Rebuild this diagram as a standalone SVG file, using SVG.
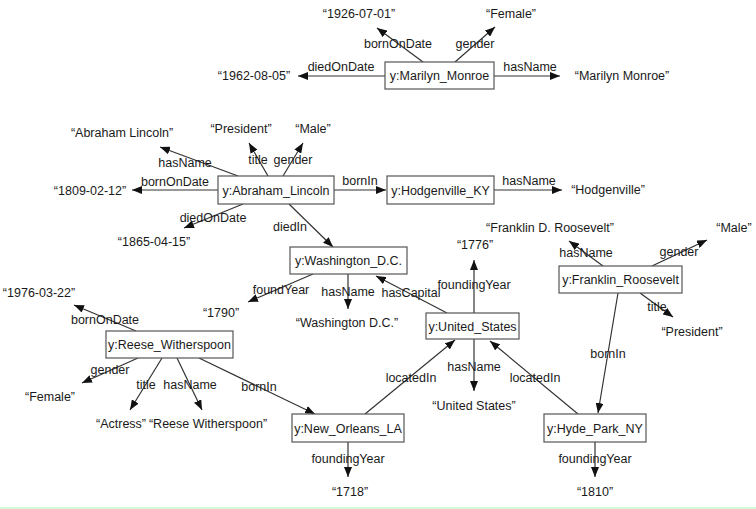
<svg xmlns="http://www.w3.org/2000/svg" width="756" height="509" viewBox="0 0 756 509">
<defs>
<marker id="ah" markerUnits="userSpaceOnUse" markerWidth="10" markerHeight="8" refX="10" refY="4" orient="auto">
<path d="M0,0 L10,4 L0,8 z" fill="#111"/>
</marker>
<style>
text{font-family:"Liberation Sans","DejaVu Sans",sans-serif;font-size:12.5px;fill:#1a1a1a;text-anchor:middle}
.box{fill:#fff;stroke:#555;stroke-width:1.2}
.e{stroke:#333;stroke-width:1.2;fill:none;marker-end:url(#ah)}
</style>
</defs>
<rect width="756" height="509" fill="#fff"/>
<rect x="0" y="507" width="756" height="2" fill="#d2fbd6"/>
<g id="connectors">
<line class="e" x1="423" y1="62" x2="377" y2="28"/>
<line class="e" x1="455" y1="62" x2="495" y2="27"/>
<line class="e" x1="385" y1="76" x2="298" y2="76"/>
<line class="e" x1="494" y1="76" x2="560" y2="76"/>
<line class="e" x1="334" y1="190" x2="386" y2="190"/>
<line class="e" x1="494" y1="190" x2="562" y2="190"/>
<line class="e" x1="268" y1="176" x2="249" y2="143"/>
<line class="e" x1="283" y1="176" x2="303" y2="143"/>
<line class="e" x1="238" y1="176" x2="160" y2="147"/>
<line class="e" x1="218" y1="190" x2="132" y2="190"/>
<line class="e" x1="243" y1="204" x2="184" y2="228"/>
<line class="e" x1="289" y1="204" x2="333" y2="247"/>
<line class="e" x1="348" y1="274" x2="348" y2="309"/>
<line class="e" x1="313" y1="274" x2="248" y2="302"/>
<line class="e" x1="447" y1="313" x2="376" y2="276"/>
<line class="e" x1="474" y1="313" x2="474" y2="260"/>
<line class="e" x1="474" y1="339" x2="474" y2="391"/>
<line class="e" x1="365" y1="414" x2="455" y2="340"/>
<line class="e" x1="578" y1="414" x2="490" y2="341"/>
<line class="e" x1="348" y1="442" x2="348" y2="477"/>
<line class="e" x1="595" y1="442" x2="595" y2="477"/>
<line class="e" x1="618" y1="293" x2="598" y2="413"/>
<line class="e" x1="603" y1="266" x2="569" y2="241"/>
<line class="e" x1="652" y1="266" x2="707" y2="240"/>
<line class="e" x1="640" y1="293" x2="673" y2="317"/>
<line class="e" x1="136" y1="331" x2="74" y2="305"/>
<line class="e" x1="138" y1="358" x2="82" y2="383"/>
<line class="e" x1="162" y1="358" x2="130" y2="410"/>
<line class="e" x1="177" y1="358" x2="202" y2="410"/>
<line class="e" x1="199" y1="358" x2="315" y2="414"/>
</g>
<g id="edge-labels">
<text x="398" y="48">bornOnDate</text>
<text x="475" y="48">gender</text>
<text x="341" y="71">diedOnDate</text>
<text x="530" y="71">hasName</text>
<text x="360" y="185">bornIn</text>
<text x="529" y="185">hasName</text>
<text x="258" y="164">title</text>
<text x="293" y="164">gender</text>
<text x="185" y="167">hasName</text>
<text x="175" y="186">bornOnDate</text>
<text x="213" y="222">diedOnDate</text>
<text x="290" y="231">diedIn</text>
<text x="348" y="296">hasName</text>
<text x="281" y="294">foundYear</text>
<text x="411" y="297">hasCapital</text>
<text x="474" y="289">foundingYear</text>
<text x="474" y="371">hasName</text>
<text x="411" y="382">locatedIn</text>
<text x="535" y="382">locatedIn</text>
<text x="348" y="463">foundingYear</text>
<text x="595" y="463">foundingYear</text>
<text x="608" y="358">bornIn</text>
<text x="586" y="257">hasName</text>
<text x="679" y="256">gender</text>
<text x="657" y="311">title</text>
<text x="105" y="324">bornOnDate</text>
<text x="110" y="374">gender</text>
<text x="146" y="389">title</text>
<text x="190" y="389">hasName</text>
<text x="259" y="391">bornIn</text>
</g>
<g id="literals">
<text x="359" y="18">“1926-07-01”</text>
<text x="511" y="18">“Female”</text>
<text x="254" y="80">“1962-08-05”</text>
<text x="622" y="80">“Marilyn Monroe”</text>
<text x="122" y="137">“Abraham Lincoln”</text>
<text x="241" y="133">“President”</text>
<text x="313" y="133">“Male”</text>
<text x="90" y="195">“1809-02-12”</text>
<text x="154" y="246">“1865-04-15”</text>
<text x="608" y="194">“Hodgenville”</text>
<text x="347" y="327">“Washington D.C.”</text>
<text x="221" y="317">“1790”</text>
<text x="475" y="249">“1776”</text>
<text x="474" y="410">“United States”</text>
<text x="350" y="496">“1718”</text>
<text x="595" y="496">“1810”</text>
<text x="550" y="232">“Franklin D. Roosevelt”</text>
<text x="734" y="232">“Male”</text>
<text x="692" y="336">“President”</text>
<text x="39" y="297">“1976-03-22”</text>
<text x="50" y="401">“Female”</text>
<text x="121" y="428">“Actress”</text>
<text x="208" y="428">“Reese Witherspoon”</text>
</g>
<g id="n-marilyn"><rect class="box" x="385" y="62" width="109" height="27"/><text x="439.5" y="80">y:Marilyn_Monroe</text></g>
<g id="n-lincoln"><rect class="box" x="218" y="176" width="116" height="28"/><text x="276" y="195">y:Abraham_Lincoln</text></g>
<g id="n-hodgenville"><rect class="box" x="387" y="176" width="107" height="28"/><text x="440.5" y="195">y:Hodgenville_KY</text></g>
<g id="n-washington"><rect class="box" x="290" y="247" width="117" height="27"/><text x="348.5" y="265">y:Washington_D.C.</text></g>
<g id="n-us"><rect class="box" x="426" y="313" width="93" height="26"/><text x="472.5" y="331">y:United_States</text></g>
<g id="n-franklin"><rect class="box" x="559" y="266" width="123" height="27"/><text x="620.5" y="284">y:Franklin_Roosevelt</text></g>
<g id="n-reese"><rect class="box" x="106" y="331" width="127" height="27"/><text x="169.5" y="349">y:Reese_Witherspoon</text></g>
<g id="n-neworleans"><rect class="box" x="292" y="414" width="112" height="28"/><text x="348" y="433">y:New_Orleans_LA</text></g>
<g id="n-hydepark"><rect class="box" x="544" y="414" width="102" height="28"/><text x="595" y="433">y:Hyde_Park_NY</text></g>
</svg>
